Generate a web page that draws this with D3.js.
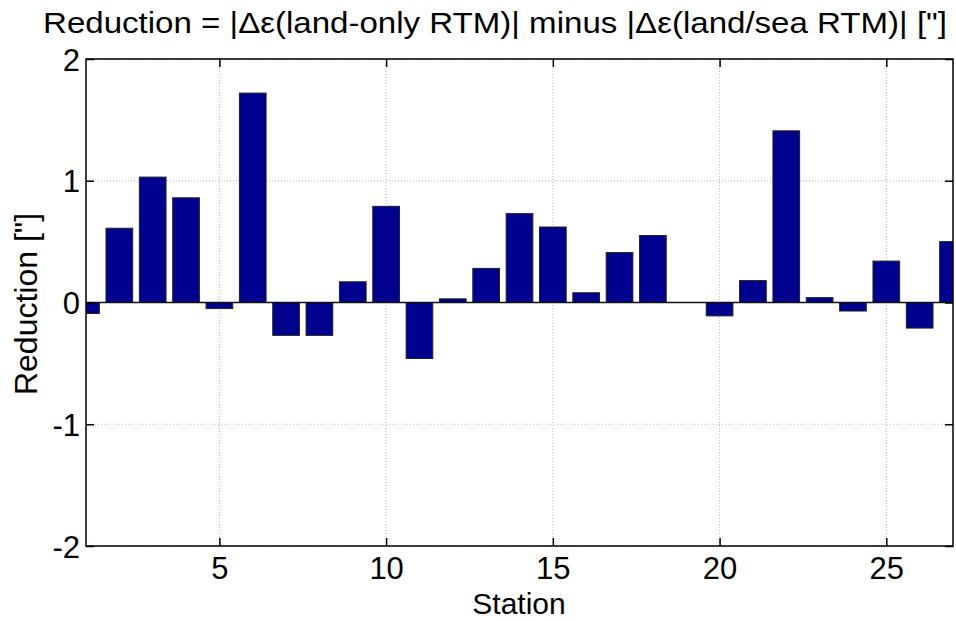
<!DOCTYPE html>
<html>
<head>
<meta charset="utf-8">
<script src="https://cdn.jsdelivr.net/npm/d3@7/dist/d3.min.js"></script>
<style>
  html, body { margin: 0; padding: 0; background: #fff; }
  svg { display: block; }
  text { font-family: "Liberation Sans", Arial, Helvetica, sans-serif; fill: #000; }
</style>
</head>
<body>
<svg id="chart" width="956" height="621"></svg>
<script>
// ---- data ----
const stations = [1,2,3,4,5,6,7,8,9,10,11,12,13,14,15,16,17,18,19,20,21,22,23,24,25,26,27];
const reduction = [-0.09,0.61,1.03,0.86,-0.05,1.72,-0.27,-0.27,0.17,0.79,-0.46,0.03,0.28,0.73,0.62,0.08,0.41,0.55,0.0,-0.11,0.18,1.41,0.04,-0.07,0.34,-0.21,0.50];
const xTicks = [5,10,15,20,25];
const yTicks = [-2,-1,0,1,2];
const titleText = "Reduction = |\u0394\u03b5(land-only RTM)| minus |\u0394\u03b5(land/sea RTM)| [\"]";
const xLabel = "Station";
const yLabel = "Reduction [\"]";

// ---- layout ----
const L = 86, R = 953, T = 59, B = 546;
const svg = d3.select("#chart");
const x = d3.scaleLinear().domain([1, 27]).range([L, R]);
const y = d3.scaleLinear().domain([-2, 2]).range([B, T]);
const barW = x(1.8) - x(1);
const fmt = d => String(d);

svg.append("defs").append("clipPath").attr("id", "clip")
  .append("rect").attr("x", L).attr("y", T).attr("width", R - L).attr("height", B - T);

// grid
const grid = svg.append("g");
grid.selectAll("line.gx").data(xTicks).join("line")
  .attr("x1", d => x(d)).attr("x2", d => x(d)).attr("y1", T).attr("y2", B)
  .attr("stroke", "#b8b8b8").attr("stroke-width", 1).attr("stroke-dasharray", "1,2");
grid.selectAll("line.gy").data(yTicks).join("line")
  .attr("x1", L).attr("x2", R).attr("y1", d => y(d)).attr("y2", d => y(d))
  .attr("stroke", "#b8b8b8").attr("stroke-width", 1).attr("stroke-dasharray", "1,2");

// bars
svg.append("g").attr("clip-path", "url(#clip)")
  .selectAll("rect").data(stations.map((s, i) => ({s, v: reduction[i]}))).join("rect")
  .attr("x", d => x(d.s) - barW / 2)
  .attr("width", barW)
  .attr("y", d => y(Math.max(0, d.v)))
  .attr("height", d => Math.abs(y(d.v) - y(0)))
  .attr("fill", "#00008f")
  .attr("stroke", "#222")
  .attr("stroke-width", 1);

// baseline
svg.append("line").attr("x1", L).attr("x2", R).attr("y1", y(0)).attr("y2", y(0))
  .attr("stroke", "#111").attr("stroke-width", 1.3);

// axes using d3 axis with inward ticks
const tickLen = 8;
const axB = svg.append("g").attr("transform", `translate(0,${B})`)
  .call(d3.axisBottom(x).tickValues(xTicks).tickSize(-tickLen).tickPadding(11).tickFormat(fmt));
const axT = svg.append("g").attr("transform", `translate(0,${T})`)
  .call(d3.axisTop(x).tickValues(xTicks).tickSize(-tickLen).tickFormat(""));
const axL = svg.append("g").attr("transform", `translate(${L},0)`)
  .call(d3.axisLeft(y).tickValues(yTicks).tickSize(-tickLen).tickPadding(6).tickFormat(fmt));
const axR = svg.append("g").attr("transform", `translate(${R},0)`)
  .call(d3.axisRight(y).tickValues(yTicks).tickSize(-tickLen).tickFormat(""));

[axB, axT, axL, axR].forEach(a => {
  a.select(".domain").remove();
  a.selectAll(".tick line").attr("stroke", "#000").attr("stroke-width", 1.5);
  a.selectAll(".tick text").attr("font-size", 31).attr("font-family", "'Liberation Sans', Arial, sans-serif").attr("fill", "#000");
});
axB.selectAll(".tick text").attr("dy", "0.71em");
axL.selectAll(".tick text").attr("dy", "0.36em");

// frame
svg.append("rect").attr("x", L).attr("y", T).attr("width", R - L).attr("height", B - T)
  .attr("fill", "none").attr("stroke", "#000").attr("stroke-width", 1.5);

// title
const tt = svg.append("text").attr("x", 495).attr("y", 33).attr("text-anchor", "middle")
  .attr("font-size", 29).text(titleText);
tt.attr("textLength", 904).attr("lengthAdjust", "spacingAndGlyphs");

// x label
svg.append("text").attr("x", 519).attr("y", 614).attr("text-anchor", "middle")
  .attr("font-size", 30).text(xLabel);

// y label
svg.append("text").attr("transform", "translate(37,304) rotate(-90)").attr("text-anchor", "middle")
  .attr("font-size", 32).text(yLabel);
</script>
</body>
</html>
